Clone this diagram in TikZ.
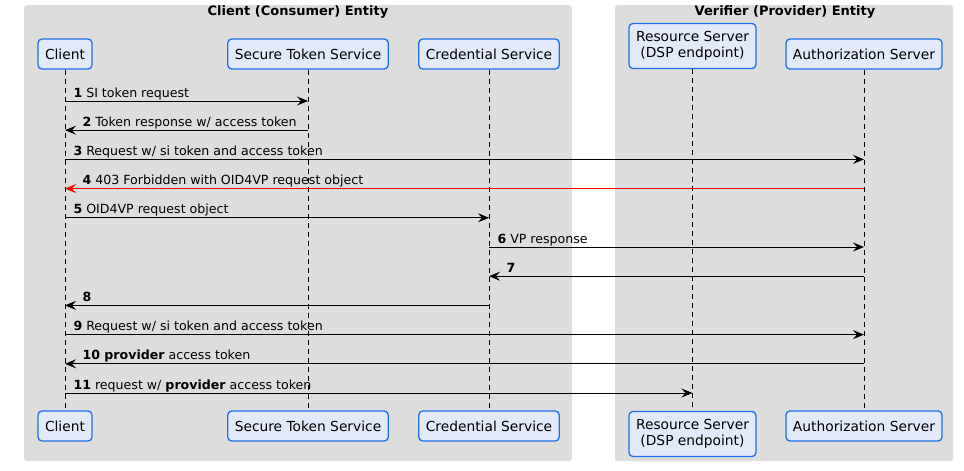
\documentclass[tikz,border=0pt]{standalone}
\usepackage{fontspec}
\setmainfont{DejaVu Sans}
\usetikzlibrary{arrows.meta}
\definecolor{grpbg}{RGB}{221,221,221}
\definecolor{partline}{RGB}{28,112,232}
\definecolor{partfill}{RGB}{226,234,250}
\tikzset{
  grp/.style={fill=grpbg, rounded corners=3pt},
  grptitle/.style={font=\fontsize{13}{15}\selectfont\bfseries},
  part/.style={draw=partline, fill=partfill, line width=1.3pt, rounded corners=4pt,
    inner xsep=7pt, inner ysep=8pt, minimum height=30pt, align=center,
    font=\fontsize{13.8}{16}\selectfont},
  life/.style={line width=0.9pt, dash pattern=on 5pt off 4pt},
  msg/.style={line width=1pt, -{Stealth[length=11pt,width=9pt,inset=4pt]}},
  lbl/.style={font=\fontsize{12.6}{15}\selectfont, anchor=base west, inner sep=0pt, yshift=4pt},
  rlbl/.style={lbl, pos=0, xshift=8pt},
  llbl/.style={lbl, pos=1, xshift=17pt},
}
\begin{document}
\begin{tikzpicture}[x=1pt,y=-1pt]
  \useasboundingbox (0,0) rectangle (964,471);
  \fill[grp] (24,5) rectangle (572,461);
  \fill[grp] (615,5) rectangle (953,461);
  \node[grptitle] (cgrp) at (298,12) {Client (Consumer) Entity};
  \node[grptitle] (vgrp) at (785,12) {Verifier (Provider) Entity};

  \node[part] (clientT) at (65,54) {Client};
  \node[part] (stsT) at (308,54) {Secure Token Service};
  \node[part] (credT) at (489,54) {Credential Service};
  \node[part] (rsT) at (692.5,46) {Resource Server\\(DSP endpoint)};
  \node[part] (asT) at (864,54) {Authorization Server};
  \node[part] (clientB) at (65,426) {Client};
  \node[part] (stsB) at (308,426) {Secure Token Service};
  \node[part] (credB) at (489,426) {Credential Service};
  \node[part] (rsB) at (692.5,434) {Resource Server\\(DSP endpoint)};
  \node[part] (asB) at (864,426) {Authorization Server};

  \draw[life] (clientT) -- (clientB);
  \draw[life] (stsT) -- (stsB);
  \draw[life] (credT) -- (credB);
  \draw[life] (rsT) -- (rsB);
  \draw[life] (asT) -- (asB);

  \draw[msg] (clientT |- 0,101) -- (stsT |- 0,101)
    node[rlbl] (m1) {\textbf{1} SI token request};
  \draw[msg] (stsT |- 0,130.2) -- (clientT |- 0,130.2)
    node[llbl] (m2) {\textbf{2} Token response w/ access token};
  \draw[msg] (clientT |- 0,159.4) -- (asT |- 0,159.4)
    node[rlbl] (m3) {\textbf{3} Request w/ si token and access token};
  \draw[msg, draw=red] (asT |- 0,188.6) -- (clientT |- 0,188.6)
    node[llbl] (m4) {\textbf{4} 403 Forbidden with OID4VP request object};
  \draw[msg] (clientT |- 0,217.8) -- (credT |- 0,217.8)
    node[rlbl] (m5) {\textbf{5} OID4VP request object};
  \draw[msg] (credT |- 0,247) -- (asT |- 0,247)
    node[rlbl] (m6) {\textbf{6} VP response};
  \draw[msg] (asT |- 0,276.2) -- (credT |- 0,276.2)
    node[llbl] (m7) {\textbf{7}};
  \draw[msg] (credT |- 0,305.4) -- (clientT |- 0,305.4)
    node[llbl] (m8) {\textbf{8}};
  \draw[msg] (clientT |- 0,334.6) -- (asT |- 0,334.6)
    node[rlbl] (m9) {\textbf{9} Request w/ si token and access token};
  \draw[msg] (asT |- 0,363.8) -- (clientT |- 0,363.8)
    node[llbl] (m10) {\textbf{10 provider} access token};
  \draw[msg] (clientT |- 0,393) -- (rsT |- 0,393)
    node[rlbl] (m11) {\textbf{11} request w/ \textbf{provider} access token};
\end{tikzpicture}
\end{document}
